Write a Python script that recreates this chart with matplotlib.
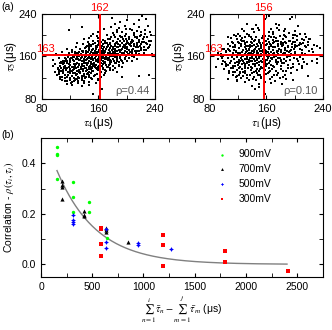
import matplotlib
matplotlib.use("Agg")
import matplotlib.pyplot as plt
import matplotlib.ticker as mticker
import numpy as np

plt.rcParams['font.family'] = ['Liberation Sans', 'DejaVu Sans']
plt.rcParams['mathtext.fontset'] = 'stix'

# ---- panel (a), left: tau4 vs tau5 (in us)
tau4_tau5 = [
    (137,215),(179,232),(222,237),(191,224),(198,218),(205,212),(217,228),(210,222),(228,230),(186,210),
    (214,208),(168,212),(118,209),(200,228),(230,218),
    (152,202),(158,198),(160,194),(172,200),(180,204),(184,196),(190,199),(195,193),(199,202),(203,197),
    (207,191),(211,200),(215,194),(219,199),(223,192),(226,203),(229,196),(231,190),(188,192),(176,193),
    (166,191),(147,195),(140,192),(193,206),(210,205),(220,206),(234,200),(201,190),
    (130,186),(138,183),(145,188),(150,182),(155,186),(159,181),(163,187),(167,183),(170,189),(174,182),
    (177,186),(181,189),(184,183),(187,187),(190,181),(193,185),(196,189),(199,183),(202,186),(205,182),
    (208,188),(211,184),(214,181),(217,187),(221,183),(225,188),(229,184),(233,181),(172,185),(188,184),
    (200,188),(210,180),(160,189),(152,184),(165,180),(183,180),(196,182),(206,185),(219,180),(235,189),
    (115,175),(122,172),(128,178),(134,174),(138,171),(142,177),(146,173),(149,179),(152,175),(155,171),
    (158,177),(161,173),(164,179),(166,175),(169,171),(172,177),(175,173),(178,179),(180,175),(183,171),
    (186,177),(189,173),(191,179),(194,175),(197,171),(200,177),(203,173),(206,179),(209,175),(212,171),
    (216,177),(220,173),(224,178),(228,172),(168,178),(176,176),(184,174),(192,172),(198,176),(157,174),
    (147,176),(188,178),(201,174),(171,174),(163,176),(179,172),(207,172),(213,178),(181,178),(195,178),
    (100,165),(108,168),(113,162),(118,166),(122,169),(126,163),(129,167),(132,161),(135,165),(138,169),
    (141,163),(143,167),(146,161),(148,165),(150,169),(152,163),(154,167),(156,161),(158,165),(160,169),
    (162,163),(164,167),(166,161),(168,165),(170,169),(172,163),(174,167),(176,161),(178,165),(180,169),
    (182,163),(184,167),(186,161),(188,165),(190,169),(193,163),(196,167),(199,161),(202,165),(205,169),
    (209,163),(213,167),(218,164),(225,166),(236,165),(145,168),(155,164),(165,164),(175,164),(185,164),
    (157,168),(167,168),(177,168),(151,160),(161,160),(171,160),(181,160),(191,160),(137,161),(127,168),
    (194,166),(200,168),(207,161),
    (96,153),(104,157),(110,151),(114,155),(117,159),(120,153),(123,157),(126,151),(128,155),(130,159),
    (133,153),(135,157),(137,151),(139,155),(141,159),(143,153),(145,157),(147,151),(149,155),(151,159),
    (153,153),(155,157),(157,151),(159,155),(161,159),(163,153),(165,157),(167,151),(169,155),(171,159),
    (173,153),(175,157),(178,151),(181,155),(184,159),(187,153),(190,157),(194,151),(198,155),(203,158),
    (208,152),(215,156),(144,155),(152,156),(160,152),(168,158),(176,154),(134,154),(124,154),(156,154),
    (164,156),(148,158),(140,152),(172,156),(182,152),
    (98,145),(105,142),(109,147),(113,143),(116,148),(119,144),(122,140),(125,146),(127,142),(130,148),
    (132,144),(135,140),(137,146),(140,142),(142,148),(144,144),(147,140),(149,146),(152,142),(154,148),
    (157,144),(160,140),(162,146),(165,142),(168,148),(171,144),(174,140),(177,146),(181,142),(185,148),
    (189,144),(193,141),(120,149),(128,145),(136,143),(145,147),(153,145),(161,143),(118,141),(131,141),
    (150,149),(166,145),(139,149),(111,140),
    (102,136),(107,133),(111,138),(114,134),(117,130),(120,136),(123,132),(126,137),(129,133),(132,131),
    (135,136),(138,132),(141,138),(144,134),(147,130),(150,136),(153,132),(156,138),(159,134),(163,130),
    (167,136),(171,132),(176,138),(181,134),(186,131),(115,138),(124,135),(133,134),(142,132),(151,139),
    (160,137),(110,131),(128,139),(146,137),
    (104,127),(108,122),(112,126),(116,121),(119,128),(122,124),(125,120),(128,126),(131,122),(134,128),
    (137,123),(140,127),(143,121),(146,125),(150,129),(154,123),(158,127),(163,121),(168,126),(117,125),
    (127,129),(136,120),(145,129),(193,121),(217,124),(232,125),(162,124),(110,129),
    (106,117),(112,113),(115,108),(119,116),(123,112),(127,118),(131,110),(136,115),(137,105),(141,119),
    (146,112),(151,117),(156,110),(160,116),(165,99),(120,119),(130,117),(140,114),(150,120),(113,119),
    (125,114),(153,90),(96,143),(104,130),(189,143),(207,171),(231,190),
    (143,171),(147,184),(153,189),(156,179),(161,185),(169,186),(173,192),(178,196),(182,201),(187,206),
    (192,197),(197,199),(204,193),(212,196),(218,191),(224,197),(227,185),(232,178),(221,176),(215,170),
    (204,165),(197,158),(189,150),(183,147),(178,149),(172,141),(166,139),(158,136),(151,133),(144,127),
    (139,124),(133,119),(127,115),(121,111),(116,113),(109,116),(105,121),(101,126),(98,131),(103,139),
    (107,150),(112,158),(118,162),(124,160),(131,164),(136,171),(141,176),(146,179),(151,172),(156,176),
    (163,170),(167,173),(173,180),(177,183),(185,185),(190,189),(194,196),(199,193),(206,188),(214,186),
    (222,187),(230,176),(208,166),(200,162),(192,154),(186,157),(179,161),(174,158),(169,150),(164,147),
    (159,149),(154,144),(149,141),(143,138),(138,136),(134,130),(129,127),(124,128),(119,133),(114,139),
    (110,145),(106,148),(112,152),(119,156),(125,159),(131,156),(136,159),(142,161),(148,163),(153,166),
    (159,162),(164,160),(170,157),(175,162),(180,166),(187,170),(193,175),(198,179),(203,184),(209,190),
    (215,197),(221,201),(226,210),(233,207),(217,215),(208,209),(199,211),(189,214),(178,216),(183,221),
    (160,206),(150,199),(144,180),(132,169),(127,164),(121,158),(116,152),(111,147),(107,139),(104,135),
    (110,134),(118,146),(125,141),(133,146),(140,148),(148,143),(155,140),(162,138),(170,135),(177,134),
    (184,139),(170,147),(177,150),(186,151),(195,147),(201,152),(211,159),(218,170),(225,173),(162,133),
    (155,125),(147,122),(140,111),(131,113),(122,107),(146,106),(159,118),(169,128),(175,144),
]

# ---- panel (a), right: tau1 vs tau5
tau1_tau5 = [
    (120,203),(128,208),(135,201),(143,206),(150,210),(156,202),(163,207),(170,203),(178,209),(185,201),
    (192,205),(200,208),(208,203),(148,213),(166,212),(139,212),(175,214),(198,200),
    (110,194),(117,198),(124,191),(130,196),(135,199),(140,193),(145,197),(150,191),(154,195),(158,199),
    (162,193),(166,197),(170,191),(174,195),(179,199),(183,192),(188,196),(193,190),(198,194),(204,198),
    (210,192),(216,196),(222,193),(142,190),(160,190),(186,199),(128,190),
    (105,183),(111,187),(116,181),(121,185),(125,189),(129,183),(133,187),(137,181),(140,185),(143,189),
    (146,183),(149,187),(152,181),(155,185),(158,189),(161,183),(164,187),(167,181),(170,185),(173,189),
    (176,183),(180,187),(184,181),(188,185),(192,189),(196,183),(201,187),(206,181),(212,185),(219,188),
    (228,182),(138,188),(157,182),(171,187),(186,188),(200,182),
    (100,175),(107,172),(112,177),(117,171),(121,176),(124,179),(127,173),(130,177),(133,171),(136,175),
    (139,179),(142,173),(145,177),(147,171),(150,175),(152,179),(155,173),(157,177),(160,171),(163,175),
    (166,179),(169,173),(172,177),(175,171),(178,175),(182,179),(186,173),(190,177),(194,171),(199,175),
    (204,179),(210,173),(216,177),(224,174),(135,172),(144,175),(154,171),(163,178),(180,172),(196,178),
    (131,179),
    (95,165),(102,168),(108,162),(113,166),(117,169),(120,163),(123,167),(126,161),(129,165),(131,169),
    (134,163),(136,167),(139,161),(141,165),(143,169),(146,163),(148,167),(150,161),(152,165),(155,169),
    (157,163),(159,167),(161,161),(164,165),(166,169),(169,163),(171,167),(174,161),(177,165),(180,169),
    (183,163),(187,167),(191,161),(195,165),(200,169),(205,163),(211,167),(218,162),(224,162),(236,162),
    (138,166),(147,164),(156,166),(165,162),(175,168),(185,166),(128,162),(153,160),(162,168),
    (92,155),(99,152),(105,157),(110,151),(114,155),(118,159),(121,153),(124,157),(127,151),(130,155),
    (132,159),(135,153),(137,157),(140,151),(142,155),(145,159),(147,153),(150,157),(152,151),(155,155),
    (157,159),(160,153),(162,157),(165,151),(168,155),(171,159),(174,153),(177,157),(181,151),(185,155),
    (189,159),(194,153),(199,157),(205,151),(212,155),(97,158),(133,150),(144,152),(158,150),(167,158),
    (180,154),(119,150),(126,154),
    (89,140),(97,146),(103,142),(108,147),(112,143),(116,148),(120,144),(123,140),(126,146),(129,142),
    (132,148),(135,144),(138,140),(141,146),(144,142),(147,148),(150,144),(153,140),(156,146),(159,142),
    (163,148),(167,144),(171,140),(175,146),(180,142),(185,148),(191,144),(198,141),(210,143),(136,149),
    (149,149),(161,146),(118,149),(130,145),
    (100,136),(107,133),(113,138),(118,134),(122,131),(126,137),(130,133),(134,138),(138,134),(142,130),
    (146,136),(150,132),(154,138),(158,134),(163,130),(168,136),(174,132),(181,137),(188,133),(195,138),
    (140,139),(156,131),(121,139),
    (106,118),(112,125),(117,121),(122,128),(127,123),(132,119),(137,126),(142,122),(147,128),(152,120),
    (157,125),(162,129),(168,121),(175,126),(183,122),(198,115),(219,124),(118,115),(145,116),(130,129),
    (139,105),(144,99),(158,90),(182,108),(118,114),(150,108),
    (132,221),(141,212),(163,237),(158,231),(193,231),(196,235),(174,221),(186,212),(221,193),(231,180),
    (210,143),
    (115,178),(120,188),(126,195),(132,203),(138,196),(144,191),(151,186),(157,193),(164,199),(171,196),
    (177,190),(183,185),(190,179),(197,187),(203,191),(209,184),(214,179),(207,174),(201,166),(194,160),
    (188,152),(182,147),(176,150),(169,142),(164,139),(158,145),(151,137),(145,133),(139,129),(133,125),
    (127,131),(121,126),(115,130),(110,138),(106,144),(101,150),(96,161),(104,163),(109,170),(114,173),
    (119,166),(125,169),(131,174),(137,177),(143,182),(148,179),(153,176),(159,181),(165,184),(170,178),
    (176,179),(181,183),(187,176),(192,168),(198,162),(203,156),(208,159),(215,164),(221,170),(213,150),
    (206,145),(197,146),(191,138),(184,133),(177,129),(171,125),(165,133),(160,127),(153,122),(148,125),
    (141,118),(135,115),(129,112),(124,120),(118,124),(112,131),(107,128),(103,146),(99,160),(102,171),
    (108,180),(113,186),(118,193),(123,199),(129,185),(134,180),(140,170),(146,168),(151,170),(158,172),
    (163,160),(168,157),(173,150),(179,158),(184,164),(189,170),(195,173),(201,178),(207,185),(213,191),
    (219,182),(226,168),(231,156),(225,151),(218,146),(211,138),(203,134),(195,129),(187,126),(179,120),
    (172,114),(165,117),(158,112),(151,126),(144,145),(138,152),(132,156),(127,160),(121,147),(116,143),
    (111,159),(106,175),(124,183),(139,186),(155,198),(170,206),(185,208),(200,201),(215,202),(145,220),
    (125,212),(178,220),(205,218),(114,201),(106,197),(97,175),(91,166),(236,176),(231,147),(188,118),
    (167,110),(149,103),(129,138),(161,153),(154,149),(147,156),(140,158),(134,165),(128,148),(122,152),
    (170,164),(177,170),
]

mean_lines = {"left": (162, 163), "right": (156, 163)}
rho_text = {"left": "ρ=0.44", "right": "ρ=0.10"}

# ---- panel (b): correlation vs summed mean interval (us)
x900 = [156, 156, 156, 156, 311, 311, 311, 473, 473, 642]
y900 = [0.464, 0.438, 0.432, 0.336, 0.325, 0.265, 0.208, 0.246, 0.208, 0.104]
x700 = [204, 204, 207, 204, 421, 421, 418, 636, 636, 636, 853]
y700 = [0.328, 0.315, 0.308, 0.257, 0.213, 0.195, 0.190, 0.145, 0.137, 0.130, 0.090]
x500 = [311, 311, 311, 311, 636, 636, 636, 950, 950, 1268]
y500 = [0.196, 0.174, 0.167, 0.161, 0.140, 0.090, 0.064, 0.084, 0.075, 0.060]
x300 = [587, 587, 587, 587, 1193, 1193, 1193, 1793, 1793, 2409]
y300 = [0.143, 0.138, 0.082, 0.032, 0.116, 0.078, -0.005, 0.054, 0.010, -0.027]

fit_amp = 0.557
fit_tau = 384.0
fit_xmin, fit_xmax = 156, 2400

fig = plt.figure(figsize=(3.32, 3.30), dpi=100)

axL = fig.add_axes([0.1265, 0.70, 0.340, 0.2576])
axR = fig.add_axes([0.6325, 0.70, 0.340, 0.2576])
axB = fig.add_axes([0.1235, 0.1606, 0.849, 0.4212])

fs = 7.5

for ax, pts, key, xlab in [(axL, tau4_tau5, "left", r"$\tau_4$(μs)"),
                           (axR, tau1_tau5, "right", r"$\tau_1$(μs)")]:
    xs = [p[0] for p in pts]
    ys = [p[1] for p in pts]
    ax.scatter(xs, ys, s=4, marker='s', color='black', linewidths=0, zorder=2)
    vx, hy = mean_lines[key]
    ax.axvline(vx, color='red', lw=1.4, zorder=3)
    ax.axhline(hy, color='red', lw=1.4, zorder=3)
    ax.text(vx, 241, str(vx), color='red', ha='center', va='bottom', fontsize=fs + 0.5)
    ax.text(0.035, hy + 1.5, str(hy), color='red', ha='center', va='bottom', fontsize=fs + 0.5,
            transform=ax.get_yaxis_transform())
    ax.text(0.95, 0.04, rho_text[key], color='#555555', ha='right', va='bottom',
            fontsize=fs + 0.5, transform=ax.transAxes)
    ax.set_xlim(80, 240)
    ax.set_ylim(80, 240)
    ax.set_xticks([80, 160, 240])
    ax.set_yticks([80, 160, 240])
    ax.xaxis.set_minor_locator(mticker.MultipleLocator(40))
    ax.yaxis.set_minor_locator(mticker.MultipleLocator(40))
    ax.tick_params(which='both', direction='in', top=True, right=True, labelsize=fs + 0.5)
    ax.tick_params(which='major', length=3)
    ax.tick_params(which='minor', length=3)
    ax.set_xlabel(xlab, fontsize=fs + 1, labelpad=1)
    ax.set_ylabel(r"$\tau_5$(μs)", fontsize=fs + 1, labelpad=0)

axB.scatter(x900, y900, s=6, marker='o', color='#00ff00', linewidths=0, label='900mV', zorder=3)
axB.scatter(x700, y700, s=9, marker='^', color='black', linewidths=0, label='700mV', zorder=3)
axB.scatter(x500, y500, s=12, marker=(4, 1, 0), color='#0000ff', linewidths=0, label='500mV', zorder=3)
axB.scatter(x300, y300, s=6, marker='s', color='#ff0000', linewidths=0, label='300mV', zorder=3)

xf = np.linspace(fit_xmin, fit_xmax, 300)
axB.plot(xf, fit_amp * np.exp(-xf / fit_tau), color='#808080', lw=1, zorder=2)

axB.set_xlim(0, 2750)
axB.set_ylim(-0.05, 0.5)
axB.xaxis.set_major_locator(mticker.MultipleLocator(500))
axB.xaxis.set_minor_locator(mticker.MultipleLocator(250))
axB.yaxis.set_major_locator(mticker.MultipleLocator(0.2))
axB.yaxis.set_minor_locator(mticker.MultipleLocator(0.1))
axB.yaxis.set_major_formatter(mticker.FormatStrFormatter('%.1f'))
axB.tick_params(which='both', direction='in', top=True, right=True, labelsize=fs)
axB.tick_params(which='major', length=3)
axB.tick_params(which='minor', length=3)
axB.set_xlabel(r"$\sum_{n=1}^{i}\bar{\tau}_n - \sum_{m=1}^{j}\bar{\tau}_m$ (μs)", fontsize=fs, labelpad=2)
axB.set_ylabel(r"Correlation - $\rho(\tau_i,\tau_j)$", fontsize=fs, labelpad=3)
axB.legend(loc='upper left', bbox_to_anchor=(0.58, 0.97), frameon=False, fontsize=fs,
           handletextpad=0.6, labelspacing=0.45, borderpad=0.2, markerscale=0.7)

fig.text(0.003, 0.995, '(a)', fontsize=fs, va='top', ha='left')
fig.text(0.003, 0.605, '(b)', fontsize=fs, va='top', ha='left')

fig.savefig('out.png', dpi=100)
